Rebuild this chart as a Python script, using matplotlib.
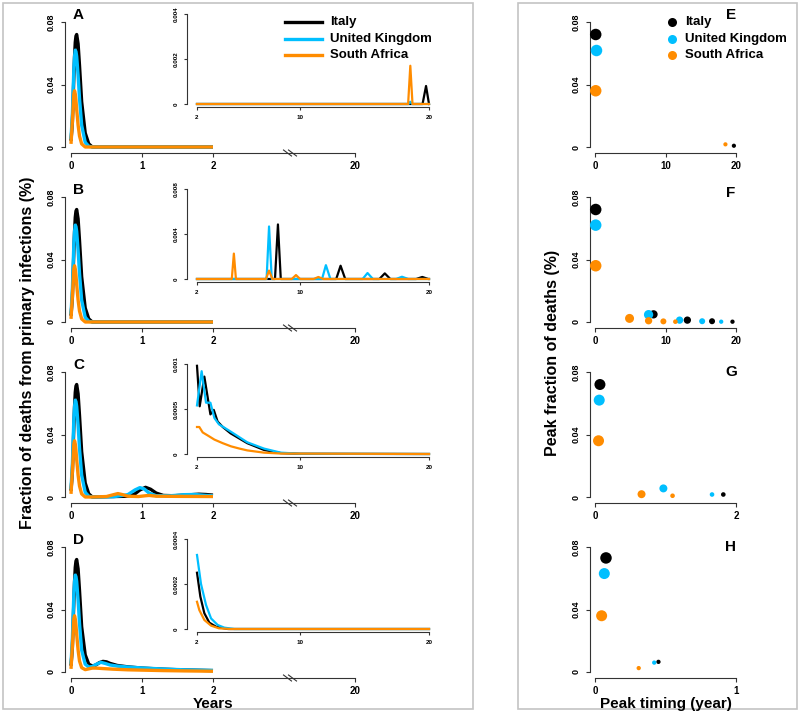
import matplotlib.pyplot as plt
from matplotlib.lines import Line2D
from matplotlib.patches import Rectangle

plt.rcParams['font.family'] = ['Liberation Sans', 'DejaVu Sans']
plt.rcParams['font.weight'] = 'bold'

W, H = 800, 713

names = ['Italy', 'United Kingdom', 'South Africa']
cols = ['#000000', '#00BFFF', '#FF8C00']

# ---- main panels: first wave (years, fraction of deaths %), same for A-D
t_wave = [0, 0.02, 0.04, 0.05, 0.06, 0.07, 0.08, 0.10, 0.12]
italy_wave = [0.004, 0.016, 0.045, 0.058, 0.067, 0.071, 0.072, 0.066, 0.052]
uk_wave = [0.005, 0.022, 0.050, 0.058, 0.062, 0.061, 0.058, 0.046, 0.031]
sa_wave = [0.002, 0.017, 0.034, 0.036, 0.034, 0.030, 0.024, 0.014, 0.007]

# tails after the first wave
ab_t = [0.15, 0.20, 0.25, 0.30, 2.0]
ab_italy = [0.029, 0.009, 0.002, 0.0, 0.0]
ab_uk = [0.014, 0.003, 0.0005, 0.0, 0.0]
ab_sa = [0.002, 0.0, 0.0, 0.0, 0.0]

c_t_italy = [0.15, 0.20, 0.25, 0.3, 0.5, 0.8, 0.9, 0.97, 1.05, 1.12, 1.2, 1.3, 1.45, 1.6, 1.8, 1.9, 2.0]
c_italy = [0.029, 0.009, 0.002, 0.0, 0.0002, 0.0005, 0.002, 0.0045, 0.0062, 0.005, 0.0025, 0.001, 0.0008, 0.0012, 0.0018, 0.0016, 0.0012]
c_t_uk = [0.15, 0.20, 0.25, 0.3, 0.6, 0.8, 0.9, 0.97, 1.03, 1.1, 1.2, 1.4, 1.6, 1.75, 1.9, 2.0]
c_uk = [0.014, 0.003, 0.0005, 0.0, 0.0002, 0.0015, 0.0045, 0.006, 0.0052, 0.0025, 0.0008, 0.0008, 0.0015, 0.0016, 0.001, 0.0008]
c_t_sa = [0.15, 0.2, 0.3, 0.5, 0.6, 0.66, 0.72, 0.8, 0.95, 1.05, 1.1, 1.2, 1.5, 2.0]
c_sa = [0.002, 0.0, 0.0, 0.0003, 0.0015, 0.0022, 0.0016, 0.0005, 0.0003, 0.0008, 0.001, 0.0005, 0.0004, 0.0003]

d_t_italy = [0.15, 0.2, 0.25, 0.3, 0.35, 0.4, 0.45, 0.5, 0.55, 0.65, 0.8, 1.0, 1.3, 1.6, 2.0]
d_italy = [0.029, 0.011, 0.005, 0.0038, 0.0045, 0.006, 0.0068, 0.0065, 0.0055, 0.0042, 0.0033, 0.0025, 0.0018, 0.0013, 0.0009]
d_t_uk = [0.15, 0.2, 0.25, 0.3, 0.35, 0.42, 0.48, 0.55, 0.65, 0.8, 1.0, 1.3, 1.6, 2.0]
d_uk = [0.014, 0.005, 0.0032, 0.0035, 0.0048, 0.0062, 0.0055, 0.0045, 0.0038, 0.0032, 0.0026, 0.0019, 0.0014, 0.001]
d_t_sa = [0.15, 0.2, 0.25, 0.3, 0.35, 0.45, 0.6, 0.8, 1.0, 1.3, 1.6, 2.0]
d_sa = [0.0028, 0.0015, 0.002, 0.0025, 0.0025, 0.0022, 0.0018, 0.0014, 0.0012, 0.0009, 0.0007, 0.0005]

# ---- insets, years 2-20
ia_t_italy = [2, 19.5, 19.77, 20.0]
ia_italy = [0, 0, 0.0008, 0]
ia_t_uk = [2, 18.4, 18.55, 18.7, 20]
ia_uk = [0, 0, 0.0001, 0, 0]
ia_t_sa = [2, 18.38, 18.55, 18.72, 20]
ia_sa = [0, 0, 0.0017, 0, 0]

ib_t_italy = [2, 8.05, 8.28, 8.5, 12.8, 13.14, 13.5, 16.15, 16.57, 17.0, 19.0, 19.48, 19.95, 20]
ib_italy = [0, 0, 0.00485, 0, 0, 0.00118, 0, 0, 0.0005, 0, 0, 0.00018, 0, 0]
ib_t_uk = [2, 7.4, 7.59, 7.8, 11.7, 12.0, 12.35, 14.85, 15.23, 15.65, 17.45, 17.9, 18.4, 20]
ib_uk = [0, 0, 0.00467, 0, 0, 0.00123, 0, 0, 0.00053, 0, 0, 0.0002, 0, 0]
ib_t_sa = [2, 4.7, 4.86, 5.02, 7.35, 7.59, 7.85, 9.35, 9.68, 10.0, 11.05, 11.42, 11.8, 20]
ib_sa = [0, 0, 0.00226, 0, 0, 0.00075, 0, 0, 0.00035, 0, 0, 0.00018, 0, 0]

ic_t_italy = [2.0, 2.21, 2.57, 3.04, 3.3, 3.6, 4.0, 4.6, 5.9, 7.2, 8.5, 10, 20]
ic_italy = [0.00098, 0.00053, 0.00086, 0.00044, 0.00049, 0.00036, 0.0003, 0.00023, 0.00012, 0.000045, 0.00001, 0.000002, 0]
ic_t_uk = [2.0, 2.36, 2.7, 3.04, 3.35, 3.7, 4.6, 5.9, 7.2, 8.5, 10, 20]
ic_uk = [0.00054, 0.00092, 0.00057, 0.00057, 0.0004, 0.00033, 0.00025, 0.00013, 0.00006, 0.000015, 0.000003, 0]
ic_t_sa = [2.0, 2.18, 2.44, 2.9, 3.35, 4.0, 4.64, 5.3, 5.9, 7.2, 8.5, 20]
ic_sa = [0.0003, 0.0003, 0.00024, 0.0002, 0.00016, 0.00012, 0.000085, 0.00006, 0.00004, 0.000015, 0.000005, 0]

id_t_italy = [2.0, 2.26, 2.57, 2.96, 3.48, 4.4, 20]
id_italy = [0.00025, 0.000144, 0.00007, 0.000028, 0.00001, 0, 0]
id_t_uk = [2.0, 2.31, 2.7, 3.09, 3.6, 4.12, 4.9, 20]
id_uk = [0.000329, 0.0002, 0.000107, 0.000047, 0.000018, 0.000006, 0, 0]
id_t_sa = [2.0, 2.18, 2.57, 3.09, 3.7, 4.6, 20]
id_sa = [0.000121, 0.000084, 0.00004, 0.000015, 0.000003, 0, 0]

# ---- peaks (timing, fraction, dot diameter px) for E-H
e_x = [[0.1, 19.7], [0.1], [0.1, 18.5]]
e_y = [[0.072, 0.0008], [0.062], [0.036, 0.0017]]
e_d = [[11.5, 4.2], [11.5], [11.5, 4.2]]

f_x = [[0.1, 8.3, 13.1, 16.6, 19.5], [0.1, 7.6, 12.0, 15.2, 17.9], [0.1, 4.9, 7.6, 9.7, 11.4]]
f_y = [[0.072, 0.0049, 0.0012, 0.0005, 0.0002], [0.062, 0.0047, 0.0012, 0.0005, 0.0002], [0.036, 0.0023, 0.0008, 0.0004, 0.0002]]
f_d = [[11.5, 8.3, 7.3, 6, 4.3], [11.5, 9.3, 7.3, 6, 4.3], [11.5, 9, 7.3, 6, 4.6]]

g_x = [[0.07, 1.82], [0.06, 0.97, 1.66], [0.05, 0.66, 1.1]]
g_y = [[0.072, 0.0016], [0.062, 0.0055, 0.0016], [0.036, 0.0018, 0.0008]]
g_d = [[11, 4.6], [11, 8, 4.6], [11, 8, 4.6]]

h_x = [[0.078, 0.45], [0.066, 0.42], [0.047, 0.31]]
h_y = [[0.073, 0.0065], [0.063, 0.006], [0.036, 0.0025]]
h_d = [[11.5, 4.3], [11, 4.3], [11, 4.3]]

fig = plt.figure(figsize=(8, 7.13), dpi=100)
axis_col = '#333333'


def make_ax(xa, x0, x1, ya, y0, y1, xlim, ylim, rpad=4, tpad=4):
    sx = (xlim[1] - xlim[0]) / (x1 - x0)
    sy = (ylim[1] - ylim[0]) / (y0 - y1)
    ax = fig.add_axes([xa / W, 1 - ya / H, (x1 + rpad - xa) / W, (ya - y1 + tpad) / H])
    ax.set_xlim(xlim[0] - (x0 - xa) * sx, xlim[1] + rpad * sx)
    ax.set_ylim(ylim[0] - (ya - y0) * sy, ylim[1] + tpad * sy)
    ax.patch.set_visible(False)
    ax.spines['top'].set_visible(False)
    ax.spines['right'].set_visible(False)
    for s in ['left', 'bottom']:
        ax.spines[s].set_color(axis_col)
        ax.spines[s].set_linewidth(0.8)
    ax.spines['left'].set_bounds(*ylim)
    ax.spines['bottom'].set_bounds(*xlim)
    ax.tick_params(colors=axis_col, labelcolor='black', length=3, width=0.8)
    return ax


main_tails = [
    [(ab_t, ab_italy), (ab_t, ab_uk), (ab_t, ab_sa)],
    [(ab_t, ab_italy), (ab_t, ab_uk), (ab_t, ab_sa)],
    [(c_t_italy, c_italy), (c_t_uk, c_uk), (c_t_sa, c_sa)],
    [(d_t_italy, d_italy), (d_t_uk, d_uk), (d_t_sa, d_sa)],
]
waves = [italy_wave, uk_wave, sa_wave]
insets = [
    [(ia_t_italy, ia_italy), (ia_t_uk, ia_uk), (ia_t_sa, ia_sa)],
    [(ib_t_italy, ib_italy), (ib_t_uk, ib_uk), (ib_t_sa, ib_sa)],
    [(ic_t_italy, ic_italy), (ic_t_uk, ic_uk), (ic_t_sa, ic_sa)],
    [(id_t_italy, id_italy), (id_t_uk, id_uk), (id_t_sa, id_sa)],
]
inset_top = [0.004, 0.008, 0.001, 0.0004]
inset_lab = [['0', '0.002', '0.004'], ['0', '0.004', '0.008'],
             ['0', '0.0005', '0.001'], ['0', '0.0002', '0.0004']]
letters_left = ['A', 'B', 'C', 'D']

for i in range(4):
    dy = 175 * i
    ax = make_ax(65, 71, 355, 153 + dy, 147 + dy, 22 + dy, (0, 4), (0, 0.08))
    for k in range(3):
        tt, vv = main_tails[i][k]
        ax.plot(t_wave + tt, waves[k] + vv, color=cols[k], lw=2.4, solid_capstyle='butt')
    ax.set_xticks([0, 1, 2, 4])
    ax.set_xticklabels(['0', '1', '2', '20'], fontsize=7)
    ax.set_yticks([0, 0.04, 0.08])
    ax.set_yticklabels(['0', '0.04', '0.08'], fontsize=6.5, rotation=90, va='center')
    ax.tick_params(axis='x', pad=3)
    ax.tick_params(axis='y', pad=4)
    # axis break
    cx, cy = 290, 153 + dy
    for off in (-2.5, 2.5):
        fig.add_artist(Line2D([(cx + off - 4) / W, (cx + off + 4) / W],
                              [1 - (cy - 3) / H, 1 - (cy + 3) / H],
                              color=axis_col, lw=0.8))
    fig.text(78.5 / W, 1 - (15 + dy) / H, letters_left[i], fontsize=11,
             ha='center', va='center')

    # inset
    ia = make_ax(187, 197, 429, 107 + dy, 104 + dy, 14 + dy, (2, 20), (0, inset_top[i]), rpad=3, tpad=2)
    for k in range(3):
        tt, vv = insets[i][k]
        ia.plot(tt, vv, color=cols[k], lw=1.6, clip_on=False)
    ia.set_xticks([2, 10, 20])
    ia.set_xticklabels(['2', '10', '20'], fontsize=4.5)
    ia.set_yticks([0, inset_top[i] / 2, inset_top[i]])
    ia.set_yticklabels(inset_lab[i], fontsize=4.5, rotation=90, va='center')
    ia.tick_params(length=2, pad=4)

# legend in A
for k in range(3):
    y = [22, 39, 55][k]
    fig.add_artist(Line2D([285 / W, 322 / W], [1 - y / H, 1 - y / H], color=cols[k], lw=2.4))
    fig.text(330 / W, 1 - y / H, names[k], fontsize=9.5, ha='left', va='center')

# right panels
scat = [(e_x, e_y, e_d, (0, 20), [0, 10, 20]),
        (f_x, f_y, f_d, (0, 20), [0, 10, 20]),
        (g_x, g_y, g_d, (0, 2), [0, 2]),
        (h_x, h_y, h_d, (0, 1), [0, 1])]
letters_right = ['E', 'F', 'G', 'H']
for i in range(4):
    dy = 175 * i
    px, py, pd, xl, xt = scat[i]
    ax = make_ax(590, 595, 736, 153 + dy, 147 + dy, 22 + dy, xl, (0, 0.08))
    for k in range(3):
        ax.scatter(px[k], py[k], s=[(d * 0.72) ** 2 for d in pd[k]], color=cols[k],
                   linewidths=0, clip_on=False, zorder=3)
    ax.set_xticks(xt)
    ax.set_xticklabels([str(v) for v in xt], fontsize=7)
    ax.set_yticks([0, 0.04, 0.08])
    ax.set_yticklabels(['0', '0.04', '0.08'], fontsize=6.5, rotation=90, va='center')
    ax.tick_params(axis='x', pad=3)
    ax.tick_params(axis='y', pad=4)
    fig.text(731 / W, 1 - ([15, 193, 372, 547][i]) / H, letters_right[i], fontsize=11,
             ha='center', va='center')

# legend in E
for k in range(3):
    y = [22, 39, 55][k]
    fig.add_artist(Line2D([672 / W], [1 - y / H], marker='o', markersize=6.5,
                          color=cols[k], markeredgewidth=0, linestyle='none'))
    fig.text(685 / W, 1 - y / H, names[k], fontsize=9.5, ha='left', va='center')

# axis titles
fig.text(28 / W, 1 - 353 / H, 'Fraction of deaths from primary infections (%)',
         rotation=90, fontsize=11.5, ha='center', va='center')
fig.text(213 / W, 1 - 704 / H, 'Years', fontsize=11, ha='center', va='center')
fig.text(553 / W, 1 - 353 / H, 'Peak fraction of deaths (%)',
         rotation=90, fontsize=11.5, ha='center', va='center')
fig.text(666 / W, 1 - 704 / H, 'Peak timing (year)', fontsize=11, ha='center', va='center')

# frames
for (x0, x1) in [(3, 473), (518, 797)]:
    fig.add_artist(Rectangle((x0 / W, 1 - 709 / H), (x1 - x0) / W, 706 / H,
                             fill=False, edgecolor='#c4c4c4', lw=1.2))

fig.savefig('out.png', dpi=100)
